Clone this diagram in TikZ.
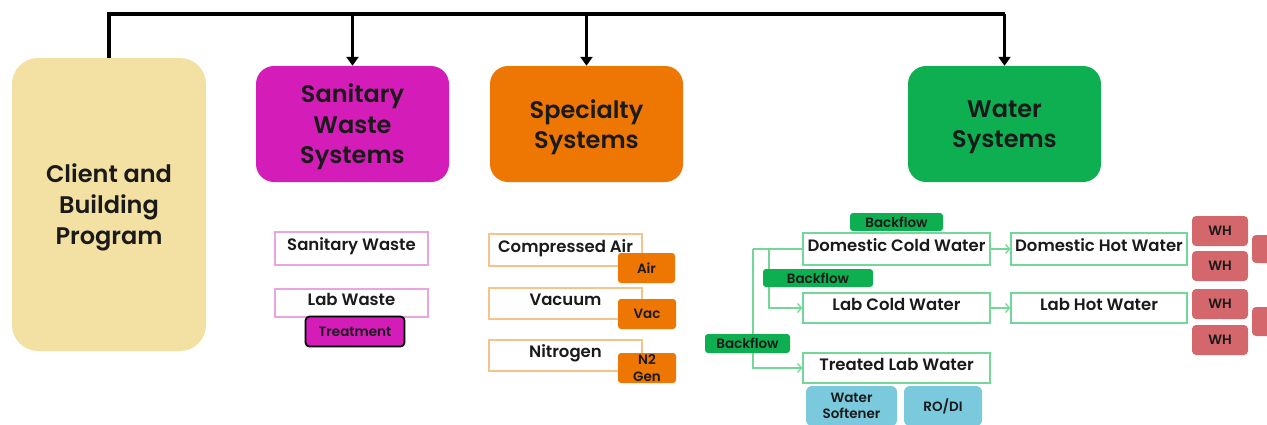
\documentclass[tikz,border=0pt]{standalone}
\usepackage{fontspec}
\IfFontExistsTF{Poppins SemiBold}{\setmainfont{Poppins}[BoldFont={Poppins SemiBold}]}{\setmainfont{Poppins}}
\usetikzlibrary{arrows.meta}
\definecolor{clientc}{HTML}{F3E0A3}
\definecolor{magc}{HTML}{D41CB8}
\definecolor{magl}{HTML}{E6A6E0}
\definecolor{orc}{HTML}{EE7602}
\definecolor{orl}{HTML}{F3C58C}
\definecolor{grc}{HTML}{0DAF50}
\definecolor{grl}{HTML}{74D79A}
\definecolor{blc}{HTML}{7AC9DC}
\definecolor{rdc}{HTML}{D3676B}
\definecolor{ink}{HTML}{1A1A1A}
\begin{document}
\begin{tikzpicture}[x=1pt,y=-1pt,
  base/.style={rectangle,inner sep=0pt,align=center,text=ink},
  bigbox/.style={base,rounded corners=18pt,minimum width=193pt,minimum height=116pt,text depth=-2pt,font=\bfseries\fontsize{24}{30.5}\selectfont},
  subbox/.style={base,draw,line width=1.2pt,fill=white,minimum width=153pt,text height=12pt,text depth=8pt,font=\bfseries\fontsize{16.5}{18}\selectfont},
  wbox/.style={base,draw=grl,line width=1.2pt,fill=white,text height=12pt,text depth=8pt,font=\bfseries\fontsize{16.5}{18}\selectfont},
  tag/.style={base,rounded corners=3pt,font=\bfseries\fontsize{13.5}{16.5}\selectfont},
  bf/.style={tag,fill=grc,minimum height=18pt},
  main/.style={line width=3.2pt,black},
  marrow/.style={main,-{Triangle[width=12pt,length=9pt]}},
  gline/.style={draw=grl,line width=1.3pt},
  garrow/.style={gline,-{Straight Barb[length=4pt,width=9pt,line width=1.3pt]}}
]
\useasboundingbox (0,0) rectangle (1267,424);
\begin{scope}
\clip (0,0) rectangle (1267,424);
% top level
\node[base,fill=clientc,rounded corners=26pt,minimum width=194pt,minimum height=293pt,text depth=-2pt,font=\bfseries\fontsize{24}{31}\selectfont] (client) at (109,204.5) {Client and\\Building\\Program};
\node[bigbox,fill=magc] (san) at (352.5,124) {Sanitary\\Waste\\Systems};
\node[bigbox,fill=orc] (spec) at (586.5,124) {Specialty\\Systems};
\node[bigbox,fill=grc] (water) at (1004.5,124) {Water\\Systems};
\coordinate (hL) at (109,14);
\draw[main,line join=miter] (client.north) -- (client.north |- hL) -- (water.north |- hL);
\draw[marrow] (water.north |- hL) -- (water.north);
\draw[marrow] (san.north |- hL) -- (san.north);
\draw[marrow] (spec.north |- hL) -- (spec.north);
% sanitary
\node[subbox,draw=magl,minimum height=33pt] (sw) at (351.5,248.5) {Sanitary Waste};
\node[subbox,draw=magl,minimum height=28pt] (lw) at (351.5,303) {Lab Waste};
\node[tag,fill=magc,draw=black,line width=1.8pt,rounded corners=4pt,minimum width=99pt,minimum height=30pt] (treat) at (355,331.5) {Treatment};
% specialty
\node[subbox,draw=orl,minimum height=32pt] (ca) at (565.5,250) {Compressed Air};
\node[tag,fill=orc,minimum width=57pt,minimum height=30pt] (air) at (646.5,268) {Air};
\node[subbox,draw=orl,minimum height=31pt] (vacb) at (565.5,303.5) {Vacuum};
\node[tag,fill=orc,minimum width=58pt,minimum height=30pt] (vac) at (647,314) {Vac};
\node[subbox,draw=orl,minimum height=31pt] (nit) at (565.5,355.5) {Nitrogen};
\node[tag,fill=orc,minimum width=58pt,minimum height=30pt] (n2) at (647,368) {N2\\Gen};
% water
\node[wbox,minimum width=187pt,minimum height=32pt] (dcw) at (896.5,249) {Domestic Cold Water};
\node[wbox,minimum width=176pt,minimum height=32pt] (dhw) at (1099,249) {Domestic Hot Water};
\node[wbox,minimum width=187pt,minimum height=30pt] (lcw) at (896.5,308) {Lab Cold Water};
\node[wbox,minimum width=176pt,minimum height=30pt] (lhw) at (1099,308) {Lab Hot Water};
\node[wbox,minimum width=187pt,minimum height=30pt] (tlw) at (896.5,368) {Treated Lab Water};
\coordinate (j1) at (753,249);
\coordinate (j2) at (769,249);
\draw[gline] (dcw.west) -- (j1);
\draw[garrow] (j1) |- (tlw.west);
\draw[garrow] (j2) |- (lcw.west);
\draw[garrow] (dcw.east) -- (dhw.west);
\draw[garrow] (lcw.east) -- (lhw.west);
\node[bf,minimum width=93pt] (bf1) at (896.5,222) {Backflow};
\node[bf,minimum width=110pt] (bf2) at (818,278) {Backflow};
\node[bf,minimum width=85pt,minimum height=19pt] (bf3) at (747.5,343.5) {Backflow};
\node[tag,fill=blc,rounded corners=6pt,minimum width=91pt,minimum height=40pt] (ws) at (851.5,406) {Water\\Softener};
\node[tag,fill=blc,rounded corners=6pt,minimum width=78pt,minimum height=40pt] (rodi) at (943,406) {RO/DI};
\node[tag,fill=rdc,rounded corners=4pt,minimum width=56pt,minimum height=30pt] (wh1) at (1220,231) {WH};
\node[tag,fill=rdc,rounded corners=4pt,minimum width=56pt,minimum height=30pt] (wh2) at (1220,266) {WH};
\node[tag,fill=rdc,rounded corners=4pt,minimum width=56pt,minimum height=30pt] (wh3) at (1220,304) {WH};
\node[tag,fill=rdc,rounded corners=4pt,minimum width=56pt,minimum height=30pt] (wh4) at (1220,340) {WH};
\node[tag,fill=rdc,rounded corners=4pt,minimum width=30pt,minimum height=28pt] (p1) at (1267,249) {};
\node[tag,fill=rdc,rounded corners=4pt,minimum width=30pt,minimum height=29pt] (p2) at (1267,321.5) {};
\end{scope}
\end{tikzpicture}
\end{document}
